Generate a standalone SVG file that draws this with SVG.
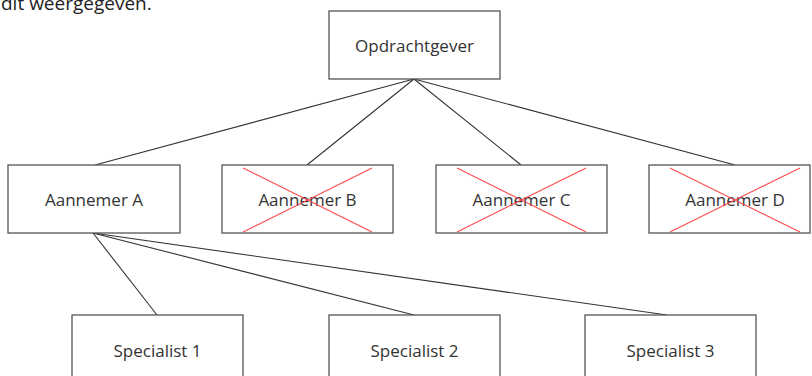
<svg xmlns="http://www.w3.org/2000/svg" width="812" height="376" viewBox="0 0 812 376">
  <style>
    .box { fill: #ffffff; stroke: #555555; stroke-width: 1.3; }
    .lbl { font-family: "Open Sans", "Noto Sans", "Liberation Sans", sans-serif; font-size: 17px; fill: #333333; text-anchor: middle; dominant-baseline: central; }
    .link { stroke: #333333; stroke-width: 1.1; fill: none; }
    .cross { stroke: #ff4b4b; stroke-width: 1.1; fill: none; }
    .body { font-family: "Open Sans", "Noto Sans", "Liberation Sans", sans-serif; font-size: 19px; fill: #222222; }
  </style>
  <rect width="812" height="376" fill="#ffffff"/>

  <!-- tail of the preceding sentence -->
  <text class="body" x="1" y="9.5">dit weergegeven.</text>

  <!-- connectors -->
  <g id="connectors">
    <line class="link" x1="414" y1="79" x2="95" y2="165"/>
    <line class="link" x1="414" y1="79" x2="307" y2="165"/>
    <line class="link" x1="414" y1="79" x2="521" y2="165"/>
    <line class="link" x1="414" y1="79" x2="735" y2="165"/>
    <line class="link" x1="93" y1="233" x2="157" y2="315"/>
    <line class="link" x1="93" y1="233" x2="414" y2="315"/>
    <line class="link" x1="93" y1="233" x2="667" y2="315"/>
  </g>

  <g id="opdrachtgever">
    <rect class="box" x="329" y="11" width="171" height="68"/>
    <text class="lbl" x="414.5" y="45">Opdrachtgever</text>
  </g>

  <g id="aannemer-a">
    <rect class="box" x="8" y="165" width="172" height="68"/>
    <text class="lbl" x="94" y="199">Aannemer A</text>
  </g>

  <g id="aannemer-b">
    <rect class="box" x="222" y="165" width="171" height="68"/>
    <text class="lbl" x="307.5" y="199">Aannemer B</text>
    <path class="cross" d="M243 168 L372 232 M372 168 L243 232"/>
  </g>

  <g id="aannemer-c">
    <rect class="box" x="436" y="165" width="171" height="68"/>
    <text class="lbl" x="521.5" y="199">Aannemer C</text>
    <path class="cross" d="M457 168 L586 232 M586 168 L457 232"/>
  </g>

  <g id="aannemer-d">
    <rect class="box" x="649" y="165" width="161" height="68"/>
    <text class="lbl" x="735" y="199">Aannemer D</text>
    <path class="cross" d="M670 168 L800 232 M800 168 L670 232"/>
  </g>

  <g id="specialist-1">
    <rect class="box" x="72" y="315" width="171" height="68"/>
    <text class="lbl" x="157.5" y="350">Specialist 1</text>
  </g>

  <g id="specialist-2">
    <rect class="box" x="329" y="315" width="171" height="68"/>
    <text class="lbl" x="414.5" y="350">Specialist 2</text>
  </g>

  <g id="specialist-3">
    <rect class="box" x="585" y="315" width="171" height="68"/>
    <text class="lbl" x="670.5" y="350">Specialist 3</text>
  </g>
</svg>
